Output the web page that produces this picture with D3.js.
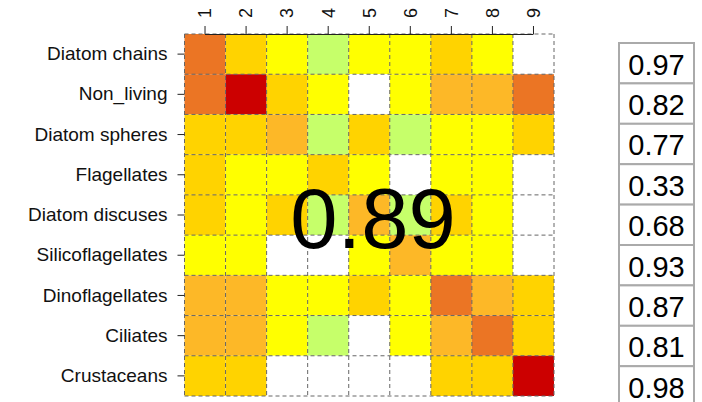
<!DOCTYPE html>
<html><head><meta charset="utf-8">
<script src="https://cdn.jsdelivr.net/npm/d3@7"></script>
<style>body{margin:0;background:#fff;} svg{display:block;}</style>
</head><body>
<svg id="chart" width="702" height="402"></svg>
<script>
const rowLabels = ["Diatom chains","Non_living","Diatom spheres","Flagellates","Diatom discuses","Silicoflagellates","Dinoflagellates","Ciliates","Crustaceans"];
const colLabels = ["1","2","3","4","5","6","7","8","9"];
// level per cell (0 = white ... 6 = dark red)
const levels = [
  [5,3,2,1,2,2,3,2,0],
  [5,6,3,2,0,2,4,4,5],
  [3,3,4,1,3,1,2,2,3],
  [3,2,2,3,2,0,2,2,0],
  [3,2,3,1,4,1,3,2,0],
  [2,2,0,0,2,4,2,2,0],
  [4,4,2,2,3,2,5,4,3],
  [4,4,2,1,0,2,4,5,3],
  [3,3,0,0,0,0,3,3,6]
];
const palette = ["#ffffff","#c6ff6a","#ffff00","#ffd300","#fdb827","#eb7524","#cc0000"];
const sideValues = ["0.97","0.82","0.77","0.33","0.68","0.93","0.87","0.81","0.98"];
const bigLabel = "0.89";

(function () {
const svg = d3.select("#chart");
const font = "Liberation Sans, Arial, sans-serif";
const gLeft = 184.5, gRight = 554, gTop = 34, gBottom = 396;
const x = d3.scaleBand().domain(colLabels).range([gLeft, gRight]);
const y = d3.scaleBand().domain(rowLabels).range([gTop, gBottom]);
const color = d3.scaleOrdinal().domain(d3.range(7)).range(palette);

const cells = [];
levels.forEach((row, i) => row.forEach((v, j) => cells.push({r: rowLabels[i], c: colLabels[j], v})));

svg.append("g").selectAll("rect").data(cells).join("rect")
  .attr("x", d => x(d.c)).attr("y", d => y(d.r))
  .attr("width", x.bandwidth()).attr("height", y.bandwidth())
  .attr("fill", d => color(d.v));

// dashed grid lines
const g = svg.append("g").attr("stroke", "#666").attr("stroke-width", 1).attr("stroke-dasharray", "4,3").attr("fill", "none");
colLabels.forEach(c => g.append("line").attr("x1", x(c)).attr("x2", x(c)).attr("y1", gTop).attr("y2", gBottom));
g.append("line").attr("x1", gRight).attr("x2", gRight).attr("y1", gTop).attr("y2", gBottom);
rowLabels.forEach(r => g.append("line").attr("x1", gLeft).attr("x2", gRight).attr("y1", y(r)).attr("y2", y(r)));
g.append("line").attr("x1", gLeft).attr("x2", gRight).attr("y1", gBottom).attr("y2", gBottom);

// top axis
const xAxis = svg.append("g").attr("transform", `translate(0,${gTop})`)
  .call(d3.axisTop(x).tickSizeOuter(0).tickSizeInner(8).tickPadding(6));
xAxis.select(".domain").attr("d", `M${x("1")+x.bandwidth()/2},0.5H${x("9")+x.bandwidth()/2}`).attr("stroke", "#222");
xAxis.selectAll(".tick line").attr("stroke", "#222");
xAxis.selectAll(".tick text")
  .attr("font-family", font).attr("font-size", 18).attr("fill", "#111")
  .attr("transform", "rotate(-90)")
  .attr("x", 21).attr("y", 0).attr("dy", "0.35em").attr("text-anchor", "middle");

// left axis
const yAxis = svg.append("g").attr("transform", `translate(${gLeft},0)`)
  .call(d3.axisLeft(y).tickSizeOuter(0).tickSizeInner(7).tickPadding(10));
yAxis.select(".domain").remove();
yAxis.selectAll(".tick line").attr("stroke", "#222");
yAxis.selectAll(".tick text").attr("font-family", font).attr("font-size", 19).attr("fill", "#111");

// big overlay label
svg.append("text").attr("x", 373).attr("y", 248).attr("text-anchor", "middle")
  .attr("font-family", font).attr("font-size", 85).attr("fill", "#000").text(bigLabel);

// side table
const boxTop = 43, boxH = 40.4, boxX = 619, boxW = 75;
const side = svg.append("g");
side.selectAll("rect").data(sideValues).join("rect")
  .attr("x", boxX).attr("y", (d, i) => boxTop + i * boxH)
  .attr("width", boxW).attr("height", boxH)
  .attr("fill", "#fff").attr("stroke", "#aaa").attr("stroke-width", 2);
side.selectAll("text").data(sideValues).join("text")
  .attr("x", boxX + boxW / 2).attr("y", (d, i) => boxTop + i * boxH + 31.5)
  .attr("text-anchor", "middle").attr("font-family", font).attr("font-size", 29).attr("fill", "#000")
  .text(d => d);
})();
</script>
</body></html>
